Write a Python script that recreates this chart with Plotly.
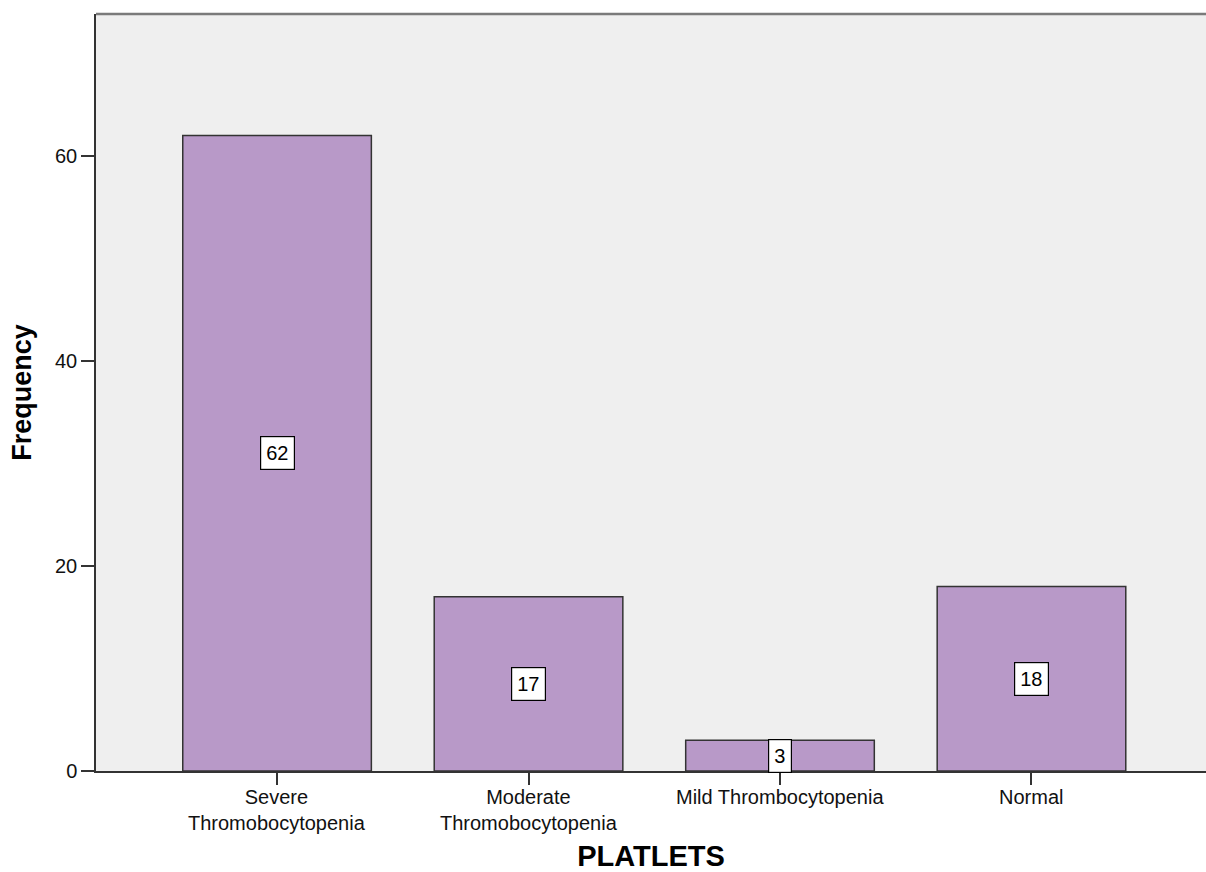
import plotly.graph_objects as go

# Platelet category counts
categories = ["Severe<br>Thromobocytopenia", "Moderate<br>Thromobocytopenia",
              "Mild Thrombocytopenia", "Normal"]
frequency = [62, 17, 3, 18]
y_ticks = [0, 20, 40, 60]

FONT = "Liberation Sans, Arial, sans-serif"
positions = list(range(len(categories)))

fig = go.Figure(
    go.Bar(
        x=positions,
        y=frequency,
        marker=dict(color="#b899c8", line=dict(color="#333333", width=1.5)),
        hoverinfo="y",
    )
)

# Value labels sit in white boxes at half bar height
for xi, v in zip(positions, frequency):
    fig.add_annotation(
        x=xi, y=v / 2, text=str(v), showarrow=False,
        font=dict(family=FONT, size=20, color="#000000"),
        bgcolor="#ffffff", bordercolor="#000000", borderwidth=1.2, borderpad=5,
    )

# Category labels hung just below the axis ticks
for xi, label in zip(positions, categories):
    fig.add_annotation(
        x=xi, y=0, xref="x", yref="y", text=label, showarrow=False,
        yanchor="top", yshift=-14, borderpad=0,
        font=dict(family=FONT, size=20, color="#111111"),
    )

# Grey frame line along the top of the plot area
fig.add_shape(type="line", xref="paper", yref="paper", x0=0, x1=1, y0=1, y1=1,
              line=dict(color="#7a7a7a", width=2.5))

fig.update_layout(
    width=1206, height=872,
    margin=dict(l=96, r=0, t=14, b=101),
    paper_bgcolor="#ffffff",
    plot_bgcolor="#efefef",
    bargap=0.25,
    showlegend=False,
    font=dict(family=FONT, color="#000000"),
)

fig.update_xaxes(
    range=[-0.72, 3.694],
    tickmode="array", tickvals=positions, showticklabels=False,
    ticks="outside", ticklen=12, tickwidth=1.5, tickcolor="#333333",
    showline=True, linecolor="#333333", linewidth=1.5,
    showgrid=False, zeroline=False,
    title=dict(text="<b>PLATLETS</b>", font=dict(family=FONT, size=29), standoff=62),
)

fig.update_yaxes(
    range=[0, 73.85],
    tickmode="array", tickvals=y_ticks, ticktext=[str(t) for t in y_ticks],
    tickfont=dict(family=FONT, size=20, color="#111111"),
    ticks="outside", ticklen=13, tickwidth=1.5, tickcolor="#333333",
    showline=True, linecolor="#333333", linewidth=1.5,
    showgrid=False, zeroline=False,
    title=dict(text="<b>Frequency</b>", font=dict(family=FONT, size=27), standoff=16),
)

fig.write_html("out.html")
